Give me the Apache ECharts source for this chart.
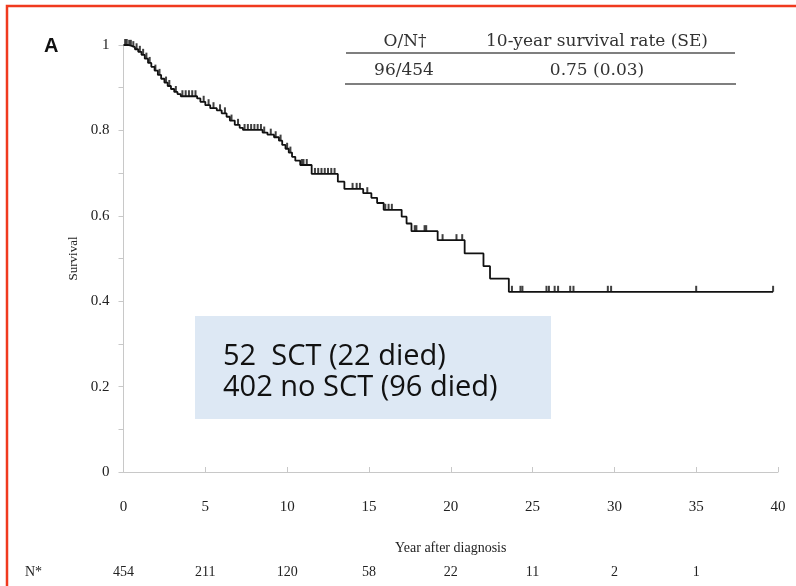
<!DOCTYPE html>
<html>
<head>
<meta charset="utf-8">
<script src="https://cdn.jsdelivr.net/npm/echarts@6/dist/echarts.min.js"></script>
<style>
  html, body { margin: 0; padding: 0; background: #fff; }
  #chart { width: 796px; height: 586px; }
</style>
</head>
<body>
<div id="chart"></div>
<script>
// Kaplan-Meier survival: event times (years) and survival right after each event
const eventTimes = [0, 0.3, 0.5, 0.7, 0.9, 1.1, 1.3, 1.5, 1.7, 1.9, 2.1, 2.3, 2.5, 2.7, 2.9, 3.1, 3.3, 3.5,
  4.5, 4.7, 5.0, 5.3, 5.7, 6.0, 6.3, 6.5, 6.8, 7.1, 7.3,
  8.5, 8.8, 9.2, 9.5, 9.7, 9.9, 10.1, 10.3, 10.5, 10.8, 11.5,
  13.1, 13.5, 14.65, 15.15, 15.5, 15.9, 17.0, 17.3, 17.6, 19.2, 20.85, 22.0, 22.4, 23.55];
const survival = [1.0, 0.998, 0.995, 0.990, 0.984, 0.977, 0.968, 0.958, 0.949, 0.940, 0.930, 0.921, 0.912, 0.904, 0.897, 0.890, 0.885, 0.880,
  0.875, 0.867, 0.859, 0.852, 0.847, 0.840, 0.832, 0.823, 0.813, 0.806, 0.801,
  0.795, 0.790, 0.784, 0.776, 0.766, 0.757, 0.748, 0.738, 0.729, 0.719, 0.698,
  0.680, 0.663, 0.653, 0.642, 0.630, 0.614, 0.598, 0.582, 0.564, 0.543, 0.512, 0.482, 0.453, 0.422];
const followUpEnd = 39.7;

// Censored observations (years)
const censorTimes = [0.1, 0.2, 0.35, 0.45, 0.6, 0.8, 1.0, 1.2, 1.4, 1.6, 1.95, 2.2, 2.6, 2.8, 3.2, 3.6, 3.8, 4.0, 4.2, 4.4,
  4.9, 5.2, 5.5, 5.9, 6.2, 6.6, 7.0, 7.4, 7.6, 7.8, 8.0, 8.2, 8.4, 8.6, 9.0, 9.3, 9.6, 10.0, 10.2,
  10.9, 11.0, 11.2, 11.7, 11.9, 12.1, 12.3, 12.5, 12.7, 12.9, 14.0, 14.25, 14.45, 14.9,
  16.0, 16.2, 16.4, 17.8, 17.9, 18.4, 18.5, 19.5, 20.35, 20.7,
  23.74, 24.26, 24.38, 25.85, 26.0, 26.35, 26.56, 27.3, 27.5, 29.6, 29.8, 35.0, 39.7];

// Numbers at risk under the x axis
const riskTimes = [0, 5, 10, 15, 20, 25, 30, 35];
const atRisk = [454, 211, 120, 58, 22, 11, 2, 1];

const yTicks = ['0', '0.2', '0.4', '0.6', '0.8', '1'];
const xTicks = [0, 5, 10, 15, 20, 25, 30, 35, 40];

const tableHead = ['O/N\u2020', '10-year survival rate (SE)'];
const tableRow = ['96/454', '0.75 (0.03)'];
const noteLines = ['52  SCT (22 died)', '402 no SCT (96 died)'];

function survivalAt(t) {
  let s = 1;
  for (let i = 0; i < eventTimes.length; i++) {
    if (eventTimes[i] <= t) s = survival[i]; else break;
  }
  return s;
}

const curve = eventTimes.map((t, i) => [t, survival[i]]);
curve.push([followUpEnd, survival[survival.length - 1]]);
const censorPts = censorTimes.map(t => [t, survivalAt(t)]);

const serif = '"Liberation Serif", "Times New Roman", serif';
const tableFont = '"DejaVu Serif", serif';
const noteFont = '29px "Open Sans", "Noto Sans", sans-serif';

const chart = echarts.init(document.getElementById('chart'), null, { renderer: 'canvas' });

chart.setOption({
  animation: false,
  backgroundColor: '#fff',
  grid: { left: 123.5, right: 18, top: 45, bottom: 114, containLabel: false },
  xAxis: [{
    type: 'value', min: 0, max: 40, interval: 5,
    name: 'Year after diagnosis', nameLocation: 'middle', nameGap: 69,
    nameTextStyle: { fontFamily: serif, fontSize: 14, color: '#222' },
    axisLine: { show: true, lineStyle: { color: '#c8c8c8', width: 1 } },
    axisTick: { show: true, inside: true, length: 5, lineStyle: { color: '#c8c8c8' } },
    axisLabel: {
      margin: 28, fontFamily: serif, fontSize: 15, color: '#222',
      formatter: v => xTicks.indexOf(v) >= 0 ? String(v) : ''
    },
    splitLine: { show: false }
  }, {
    type: 'value', min: 0, max: 40, interval: 5, position: 'bottom', offset: 93,
    axisLine: { show: false }, axisTick: { show: false }, splitLine: { show: false },
    axisLabel: {
      margin: 0, fontFamily: serif, fontSize: 14, color: '#222',
      formatter: v => { const i = riskTimes.indexOf(v); return i >= 0 ? String(atRisk[i]) : ''; }
    }
  }],
  yAxis: {
    type: 'value', min: 0, max: 1, interval: 0.2,
    name: 'Survival', nameLocation: 'middle', nameGap: 38, nameRotate: 90,
    nameTextStyle: { fontFamily: serif, fontSize: 13, color: '#222' },
    axisLine: { show: true, lineStyle: { color: '#c8c8c8', width: 1 } },
    axisTick: { show: true, length: 5, lineStyle: { color: '#c8c8c8' } },
    minorTick: { show: true, splitNumber: 2, length: 5, lineStyle: { color: '#c8c8c8' } },
    axisLabel: {
      margin: 14, fontFamily: serif, fontSize: 15, color: '#222',
      formatter: v => { const s = String(Math.round(v * 10) / 10); return yTicks.indexOf(s) >= 0 ? s : ''; }
    },
    splitLine: { show: false }
  },
  series: [{
    type: 'line', step: 'end', data: curve, showSymbol: false, symbol: 'none',
    lineStyle: { color: '#111', width: 1.8 }, silent: true, z: 3
  }, {
    type: 'scatter', data: censorPts, symbol: 'rect', symbolSize: [2, 6], symbolOffset: [0, -3],
    itemStyle: { color: '#111' }, silent: true, z: 4
  }],
  graphic: [
    { type: 'rect', shape: { x: 7, y: 6, width: 800, height: 600 },
      style: { fill: 'none', stroke: '#f03a1e', lineWidth: 2.5 }, silent: true },
    { type: 'text', left: 44, top: 36,
      style: { text: 'A', font: 'bold 20px "Liberation Sans", Arial, sans-serif', fill: '#111' } },
    { type: 'text', x: 405, y: 42,
      style: { text: tableHead[0], font: '17px ' + tableFont, fill: '#333', align: 'center', verticalAlign: 'middle' } },
    { type: 'text', x: 597, y: 42,
      style: { text: tableHead[1], font: '17px ' + tableFont, fill: '#333', align: 'center', verticalAlign: 'middle' } },
    { type: 'line', shape: { x1: 346, y1: 53, x2: 735, y2: 53 }, style: { stroke: '#555', lineWidth: 1.5 } },
    { type: 'text', x: 404, y: 71,
      style: { text: tableRow[0], font: '17px ' + tableFont, fill: '#333', align: 'center', verticalAlign: 'middle' } },
    { type: 'text', x: 597, y: 71,
      style: { text: tableRow[1], font: '17px ' + tableFont, fill: '#333', align: 'center', verticalAlign: 'middle' } },
    { type: 'line', shape: { x1: 345, y1: 84, x2: 736, y2: 84 }, style: { stroke: '#555', lineWidth: 1.5 } },
    { type: 'rect', shape: { x: 195, y: 316, width: 356, height: 103 }, style: { fill: '#dde8f4' } },
    { type: 'text', x: 223, y: 357,
      style: { text: noteLines[0], font: noteFont, fill: '#111', verticalAlign: 'middle' } },
    { type: 'text', x: 223, y: 388,
      style: { text: noteLines[1], font: noteFont, fill: '#111', verticalAlign: 'middle' } },
    { type: 'text', x: 25, y: 572,
      style: { text: 'N*', font: '14px ' + serif, fill: '#222', verticalAlign: 'middle' } }
  ]
});
</script>
</body>
</html>
